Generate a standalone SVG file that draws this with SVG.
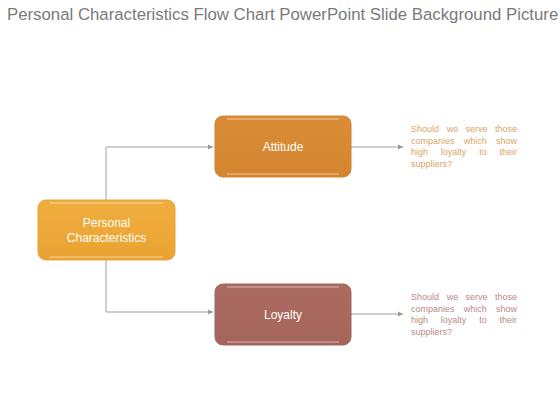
<svg xmlns="http://www.w3.org/2000/svg" width="560" height="420" viewBox="0 0 560 420">
<defs>
<style>
text{font-family:"Liberation Sans",Arial,sans-serif}
.title{font-size:16.8px;fill:#7a7a7a}
.lbl{font-size:12px;fill:#fff;text-anchor:middle}
.note{font-size:9px}
.m{text-anchor:middle}
.e{text-anchor:end}
.conn{fill:none;stroke:#a0a0a0;stroke-width:1}
.hl{fill:none;stroke:#fff;stroke-opacity:0.35;stroke-width:1.5}
</style>
<marker id="ah" markerWidth="6" markerHeight="6" refX="5" refY="3" orient="auto" markerUnits="userSpaceOnUse">
<path d="M0,0.5 L5,3 L0,5.5 Z" fill="#999"/>
</marker>
<linearGradient id="gP" x1="0" y1="0" x2="0" y2="1"><stop offset="0" stop-color="#f0ad3e"/><stop offset="1" stop-color="#eaa332"/></linearGradient>
<linearGradient id="gA" x1="0" y1="0" x2="0" y2="1"><stop offset="0" stop-color="#da8c37"/><stop offset="1" stop-color="#d4852f"/></linearGradient>
<linearGradient id="gL" x1="0" y1="0" x2="0" y2="1"><stop offset="0" stop-color="#ac6b61"/><stop offset="1" stop-color="#a5655a"/></linearGradient>
</defs>
<rect width="560" height="420" fill="#fff"/>
<text class="title" x="7" y="20">Personal Characteristics Flow Chart PowerPoint Slide Background Picture</text>
<g id="connectors">
<path class="conn" d="M106,200 V147 H213" marker-end="url(#ah)"/>
<path class="conn" d="M106,260 V312 H213" marker-end="url(#ah)"/>
<path class="conn" d="M351,147 H403" marker-end="url(#ah)"/>
<path class="conn" d="M351,314 H403" marker-end="url(#ah)"/>
</g>
<g id="personal">
<rect x="38" y="200" width="137" height="60" rx="8" fill="url(#gP)" stroke="#e8a23a"/>
<path class="hl" d="M50,203 H163 M50,257 H163"/>
<text class="lbl" x="106.5" y="227">Personal</text>
<text class="lbl" x="106.5" y="242">Characteristics</text>
</g>
<g id="attitude">
<rect x="215" y="116" width="136" height="61" rx="8" fill="url(#gA)" stroke="#d08535"/>
<path class="hl" d="M227,119 H339 M227,174 H339"/>
<text class="lbl" x="283" y="151">Attitude</text>
</g>
<g id="loyalty">
<rect x="215" y="284" width="136" height="61" rx="8" fill="url(#gL)" stroke="#a0665c"/>
<path class="hl" d="M227,287 H339 M227,342 H339"/>
<text class="lbl" x="283" y="319">Loyalty</text>
</g>
<g id="note-attitude" class="note" fill="#dba466">
<text x="411" y="132">Should</text><text class="m" x="452.6" y="132">we</text><text class="m" x="476.6" y="132">serve</text><text class="e" x="517" y="132">those</text>
<text x="411" y="143.5">companies</text><text class="m" x="475.3" y="143.5">which</text><text class="e" x="517" y="143.5">show</text>
<text x="411" y="155">high</text><text class="m" x="453.6" y="155">loyalty</text><text class="m" x="482.9" y="155">to</text><text class="e" x="517" y="155">their</text>
<text x="411" y="166.5">suppliers?</text>
</g>
<g id="note-loyalty" class="note" fill="#b98a85">
<text x="411" y="300">Should</text><text class="m" x="452.6" y="300">we</text><text class="m" x="476.6" y="300">serve</text><text class="e" x="517" y="300">those</text>
<text x="411" y="311.5">companies</text><text class="m" x="475.3" y="311.5">which</text><text class="e" x="517" y="311.5">show</text>
<text x="411" y="323">high</text><text class="m" x="453.6" y="323">loyalty</text><text class="m" x="482.9" y="323">to</text><text class="e" x="517" y="323">their</text>
<text x="411" y="334.5">suppliers?</text>
</g>
</svg>
